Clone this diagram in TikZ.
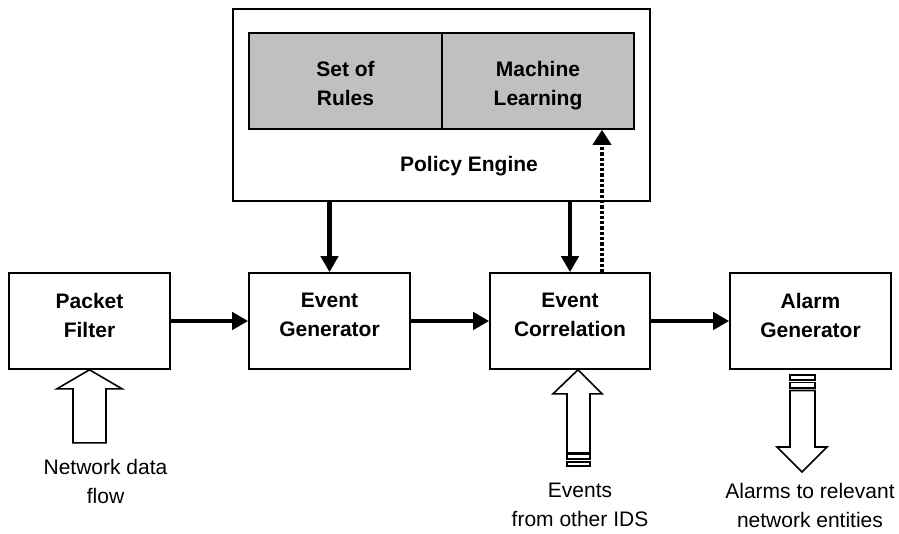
\documentclass[tikz,border=0pt]{standalone}
\usepackage{fontspec}
\setmainfont{Liberation Sans}
\usetikzlibrary{arrows.meta}
\definecolor{cellgray}{RGB}{192,192,192}
\tikzset{
  blk/.style={draw,line width=1.6pt,minimum width=161pt,minimum height=96pt,inner sep=0pt,
    font=\fontsize{21}{29}\selectfont\bfseries,align=center,text depth=12pt},
  cell/.style={draw,fill=cellgray,line width=1.6pt,minimum height=96pt,inner sep=0pt,
    font=\fontsize{21}{29}\selectfont\bfseries,align=center,text height=50pt,text depth=0pt},
  ntxt/.style={font=\fontsize{21}{29}\selectfont,align=center},
  flow/.style={line width=4.2pt,-{Triangle[length=16pt,width=17pt]}},
  feedback/.style={line width=3.6pt,dash pattern=on 3.3pt off 2pt,-{Triangle[length=15pt,width=18pt]}},
  hollow/.style={line width=1.6pt,line join=miter}
}
\begin{document}
\begin{tikzpicture}[x=1pt,y=-1pt]
	\useasboundingbox (0,0) rectangle (899,534);
	% policy engine with its two parts
	\node[draw,line width=1.6pt,minimum width=417pt,minimum height=192pt] (pe) at (441.5,105) {};
	\node[cell,minimum width=193pt] (rules) at (345.5,81) {Set of\\Rules};
	\node[cell,minimum width=192pt] (ml) at (538,81) {Machine\\Learning};
	\node[font=\fontsize{21}{29}\selectfont\bfseries] (pet) at (469,166.5) {Policy Engine};
	% processing chain
	\node[blk] (pf) at (89.5,321) {Packet\\Filter};
	\node[blk] (eg) at (329.5,321) {Event\\Generator};
	\node[blk,minimum width=160pt] (ec) at (570,321) {Event\\Correlation};
	\node[blk] (ag) at (810.5,321) {Alarm\\Generator};
	\draw[flow] (pf) -- (eg);
	\draw[flow] (eg) -- (ec);
	\draw[flow] (ec) -- (ag);
	\draw[flow] (pe.south -| eg.north) -- (eg.north);
	\draw[flow] (pe.south -| ec.north) -- (ec.north);
	\coordinate (fb) at ([xshift=32pt]ec.north);
	\draw[feedback] (fb) -- (fb |- ml.south);
	% hollow arrows in and out
	\draw[hollow] (pf.south) -- ++(32.5,19) -- ++(-16,0) -- ++(0,54) -- ++(-33,0) -- ++(0,-54) -- ++(-16,0) -- cycle;
	\node[ntxt] (nd) at (105.5,481) {Network data\\flow};
	\draw[hollow] ([xshift=8pt]ec.south) -- ++(24,24) -- ++(-12,0) -- ++(0,59) -- ++(-23,0) -- ++(0,-59) -- ++(-14,0) -- cycle;
	\draw[hollow] (567,454) rectangle (590,459);
	\draw[hollow] (567,462) rectangle (590,466);
	\node[ntxt] (oi) at (580,505) {Events\\from other IDS};
	\draw[hollow] (790,375) rectangle (815,380);
	\draw[hollow] (790,382.5) rectangle (815,388);
	\draw[hollow] (790,390.5) -- (815,390.5) -- (815,447) -- (827,447) -- (802,472) -- (777,447) -- (790,447) -- cycle;
	\node[ntxt] (al) at (810,505) {Alarms to relevant\\network entities};
\end{tikzpicture}
\end{document}
